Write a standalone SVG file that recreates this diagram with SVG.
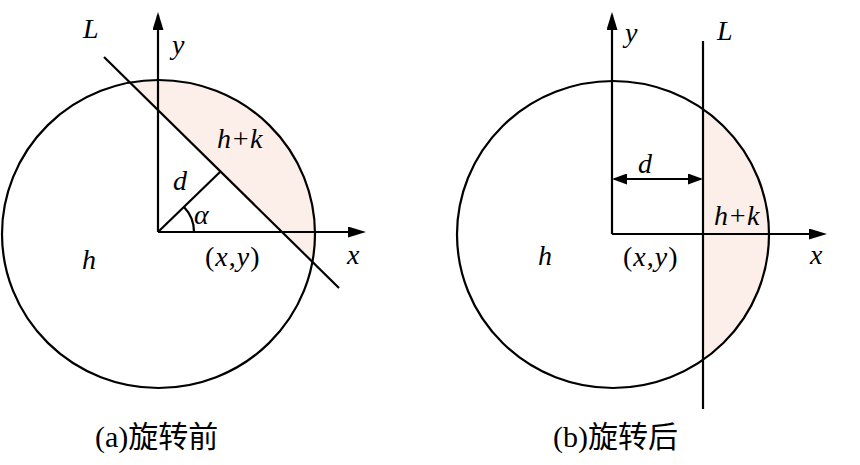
<svg xmlns="http://www.w3.org/2000/svg" width="860" height="465" viewBox="0 0 860 465">
<style>
.ln{stroke:#000;stroke-width:2.2;fill:none}
.sh{fill:#fcefe9;stroke:none}
.t{font-family:"Liberation Serif","Times New Roman",serif;font-size:28px;fill:#000}
.i{font-style:italic}
.xy{letter-spacing:1px}
.cap{font-size:30px}
.cj{font-family:"Noto Sans CJK SC","Noto Sans CJK JP",sans-serif;font-size:30px}
</style>
<defs>
<marker id="arr" viewBox="0 0 18 11" refX="15" refY="5.5" markerWidth="18" markerHeight="11" markerUnits="userSpaceOnUse" orient="auto">
<path d="M0,0 L18,5.5 L0,11 z" fill="#000"/>
</marker>
<marker id="arr2" viewBox="0 0 15 11" refX="13" refY="5.5" markerWidth="15" markerHeight="11" markerUnits="userSpaceOnUse" orient="auto-start-reverse">
<path d="M0,0 L15,5.5 L0,11 z" fill="#000"/>
</marker>
<clipPath id="clipA"><polygon points="0,-45.2 420,367.6 420,-45.2"/></clipPath>
<clipPath id="clipB"><rect x="703" y="0" width="157" height="465"/></clipPath>
</defs>

<g id="panelA">
<g id="regionA">
<ellipse class="sh" cx="158.5" cy="234" rx="156.5" ry="154" clip-path="url(#clipA)"/>
<ellipse class="ln" cx="158.5" cy="234" rx="156.5" ry="154"/>
</g>
<g id="connectorsA">
<line class="ln" x1="158" y1="232" x2="158" y2="15" marker-end="url(#arr)"/>
<line class="ln" x1="158" y1="232" x2="363" y2="232" marker-end="url(#arr)"/>
<line class="ln" x1="104" y1="57" x2="339" y2="288"/>
<line class="ln" x1="158" y1="232" x2="220" y2="172"/>
<path class="ln" d="M194,232 A36,36 0 0 0 184,207"/>
</g>
<g id="labelsA">
<text class="t i" x="83" y="38">L</text>
<text class="t i" x="172" y="54">y</text>
<text class="t i" x="217" y="148">h+k</text>
<text class="t i" x="173" y="190">d</text>
<text class="t i" x="194" y="224">α</text>
<text class="t i" x="82" y="269">h</text>
<text class="t xy" x="205" y="266">(<tspan class="i">x</tspan>,<tspan class="i">y</tspan>)</text>
<text class="t i" x="347" y="264">x</text>
<text class="t cap" x="95" y="447">(a)<tspan class="cj">旋转前</tspan></text>
</g>
</g>

<g id="panelB">
<g id="regionB">
<ellipse class="sh" cx="613" cy="234.5" rx="156" ry="153.5" clip-path="url(#clipB)"/>
<ellipse class="ln" cx="613" cy="234.5" rx="156" ry="153.5"/>
</g>
<g id="connectorsB">
<line class="ln" x1="612" y1="234" x2="612" y2="15" marker-end="url(#arr)"/>
<line class="ln" x1="612" y1="234" x2="824" y2="234" marker-end="url(#arr)"/>
<line class="ln" x1="703" y1="41" x2="703" y2="409"/>
<line class="ln" x1="614" y1="179" x2="701" y2="179" marker-start="url(#arr2)" marker-end="url(#arr2)"/>
</g>
<g id="labelsB">
<text class="t i" x="625" y="42">y</text>
<text class="t i" x="717" y="40">L</text>
<text class="t i" x="638" y="173">d</text>
<text class="t i" x="714" y="225">h+k</text>
<text class="t i" x="538" y="265">h</text>
<text class="t xy" x="623" y="266">(<tspan class="i">x</tspan>,<tspan class="i">y</tspan>)</text>
<text class="t i" x="810" y="264">x</text>
<text class="t cap" x="553" y="447">(b)<tspan class="cj">旋转后</tspan></text>
</g>
</g>
</svg>
